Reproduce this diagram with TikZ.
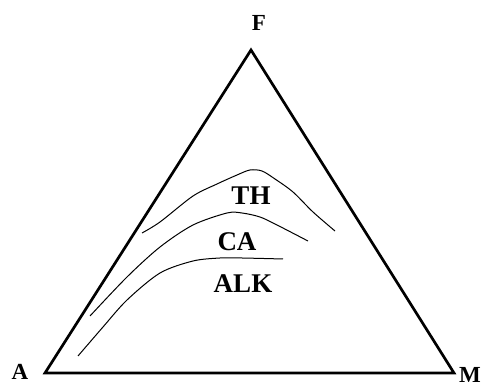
\documentclass[tikz,border=0pt]{standalone}
\usepackage{fontspec}
\setmainfont{Liberation Serif}
\begin{document}
\begin{tikzpicture}[x=1pt,y=-1pt,
  edge/.style={line width=2.7pt,line join=miter},
  series/.style={line width=1pt},
  vlabel/.style={font=\fontsize{23}{23}\selectfont\bfseries,inner sep=0pt},
  rlabel/.style={font=\fontsize{27}{27}\selectfont\bfseries,inner sep=0pt}]
\useasboundingbox (0,0) rectangle (485,387);
\coordinate (vF) at (251,50);
\coordinate (vA) at (45,373);
\coordinate (vM) at (454,373);
\draw[edge] (vA) -- (vF) -- (vM) -- cycle;
\node[vlabel] (F) at (259,23) {F};
\node[vlabel,anchor=base] (A) at (20,380) {A};
\node[vlabel] (M) at (470,375) {M};
\draw[series] plot[smooth,tension=0.5] coordinates {(142,233) (160,222) (193,196) (217,184) (237,175) (250,170) (262,171) (275,179) (293,192) (313,212) (335,231)};
\draw[series] plot[smooth,tension=0.5] coordinates {(90,316) (127,277) (160,247) (193,225) (227,213) (242,213) (260,217) (277,225) (308,241)};
\draw[series] plot[smooth,tension=0.5] coordinates {(78,356) (103,327) (127,300) (160,273) (193,261) (220,258) (242,258) (283,259)};
\node[rlabel] (TH) at (251,196) {TH};
\node[rlabel] (CA) at (237,242) {CA};
\node[rlabel] (ALK) at (243,284) {ALK};
\end{tikzpicture}
\end{document}
